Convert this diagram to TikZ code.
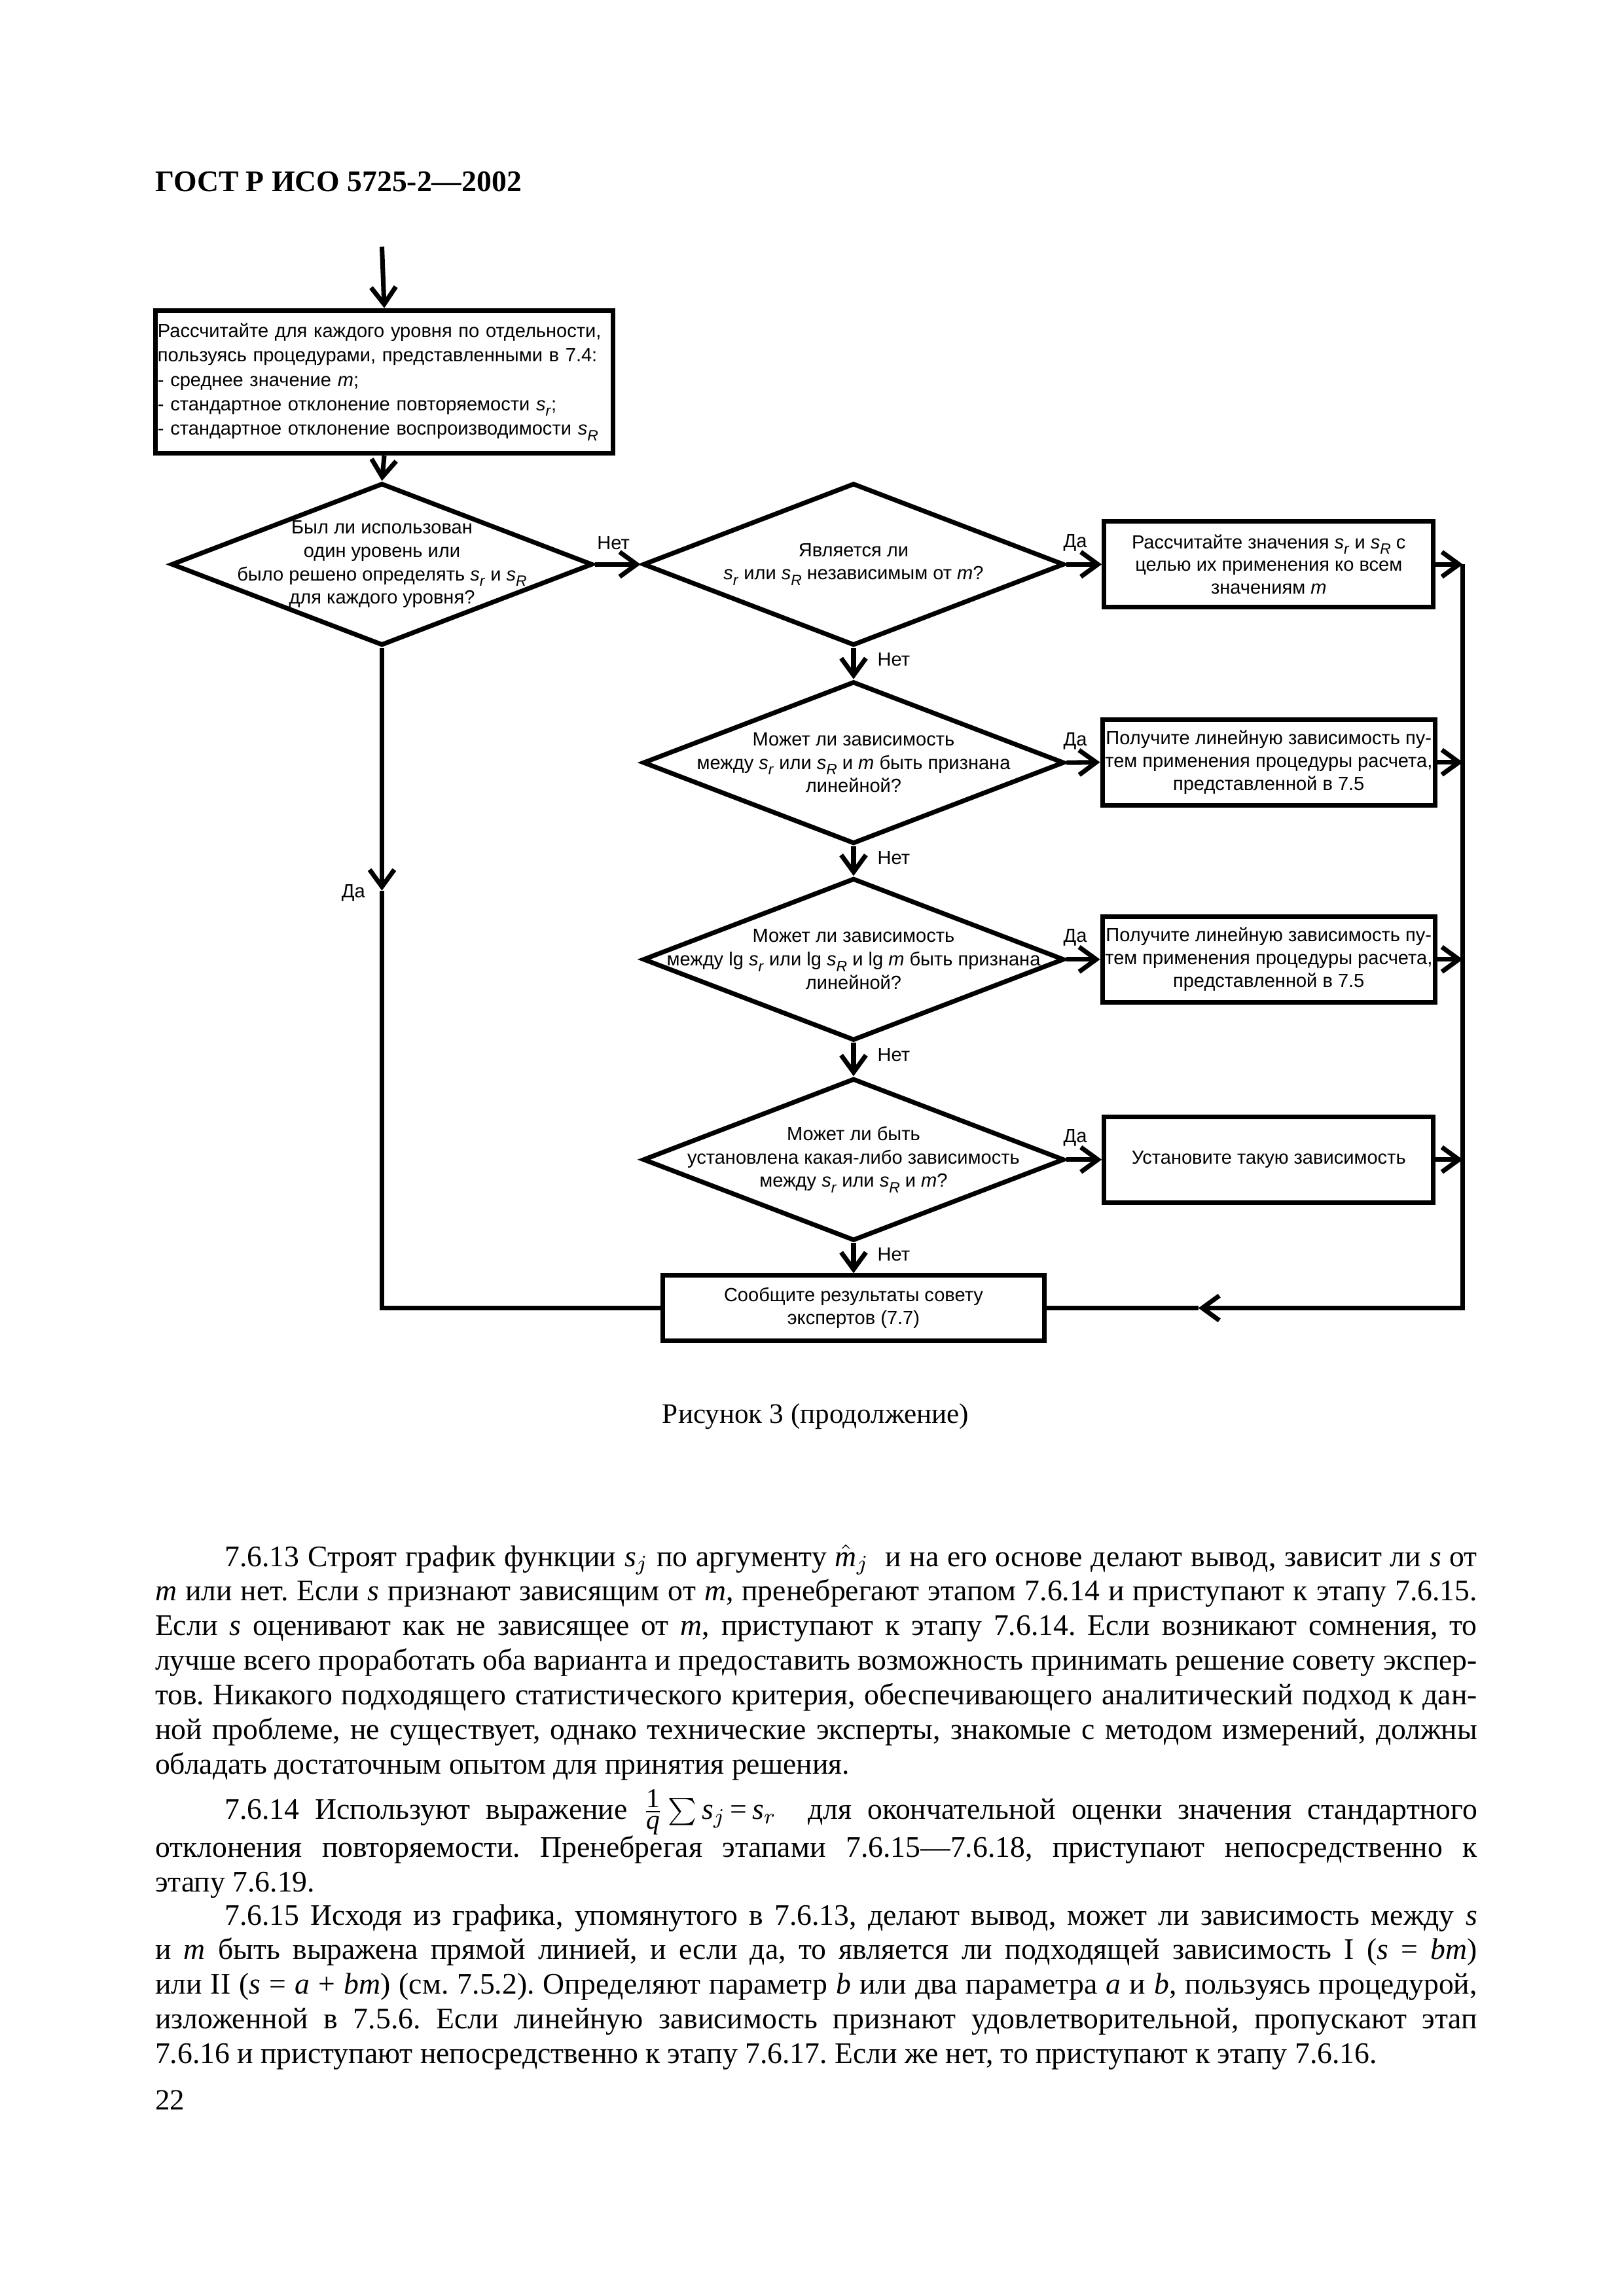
\documentclass[tikz,border=0pt]{standalone}
\usepackage{fontspec}
\setmainfont{Liberation Serif}
\newfontfamily\flowfont{Liberation Sans}
\usetikzlibrary{shapes.geometric,arrows.meta}
\newcommand{\sidx}[1]{\textit{s}\raisebox{-0.55ex}{\fontsize{5.5}{5.5}\selectfont\textit{#1}}}
\begin{document}
\begin{tikzpicture}[
    box/.style={draw, line width=1.7pt, inner sep=1pt, align=center,
      font=\flowfont\fontsize{7}{8.4}\selectfont},
    decision/.style={diamond, draw, line width=1.7pt, inner sep=0pt,
      minimum width=5.45cm, minimum height=2.1cm},
    qtext/.style={align=center, inner sep=0pt, font=\flowfont\fontsize{7}{8.6}\selectfont},
    lbl/.style={inner sep=0pt, font=\flowfont\fontsize{7}{8}\selectfont},
    flow/.style={line width=1.7pt, -{Straight Barb[length=2.2mm,width=3.2mm]}},
    link/.style={line width=1.7pt},
    body/.style={anchor=base west, inner sep=0pt, text width=17.1cm, align=justify,
      font=\fontsize{11}{12.74}\selectfont\frenchspacing}
  ]
  \useasboundingbox (0,0) rectangle (21,-29.7);
  \node[anchor=base west, inner sep=0pt, font=\bfseries\fontsize{11}{13}\selectfont] (head) at (2.0,-2.48) {ГОСТ Р ИСО 5725-2—2002};

  \coordinate (entry) at (4.94,-3.19);
  \node[box, minimum width=5.92cm, minimum height=1.85cm, text width=5.86cm, align=left,
    inner xsep=0.5pt, font=\flowfont\fontsize{7}{9}\selectfont] (calc) at (4.97,-4.94)
    {Рассчитайте для каждого уровня по отдельности,\\
     пользуясь процедурами, представленными в 7.4:\\
     - среднее значение \textit{m};\\
     - стандартное отклонение повторяемости \sidx{r};\\
     - стандартное отклонение воспроизводимости \sidx{R}};

  \node[decision] (q1) at (4.94,-7.30) {};
  \node[qtext] (q1t) at (q1) {Был ли использован\\один уровень или\\было решено определять \sidx{r} и \sidx{R}\\для каждого уровня?};
  \node[decision] (q2) at (11.04,-7.30) {};
  \node[qtext] (q2t) at (q2) {Является ли\\\sidx{r} или \sidx{R} независимым от \textit{m}?};
  \node[decision] (q3) at (11.04,-9.865) {};
  \node[qtext] (q3t) at (q3) {Может ли зависимость\\между \sidx{r} или \sidx{R} и \textit{m} быть признана\\линейной?};
  \node[decision] (q4) at (11.04,-12.41) {};
  \node[qtext] (q4t) at (q4) {Может ли зависимость\\между lg \sidx{r} или lg \sidx{R} и lg \textit{m} быть признана\\линейной?};
  \node[decision] (q5) at (11.04,-15.0) {};
  \node[qtext] (q5t) at (q5) {Может ли быть\\установлена какая-либо зависимость\\между \sidx{r} или \sidx{R} и \textit{m}?};

  \node[box, minimum width=4.26cm, minimum height=1.11cm] (b2) at (16.41,-7.30)
    {Рассчитайте значения \sidx{r} и \sidx{R} с\\целью их применения ко всем\\значениям \textit{m}};
  \node[box, minimum width=4.26cm, minimum height=1.11cm] (b3) at (16.41,-9.86)
    {Получите линейную зависимость пу-\\тем применения процедуры расчета,\\представленной в 7.5};
  \node[box, minimum width=4.26cm, minimum height=1.11cm] (b4) at (16.41,-12.41)
    {Получите линейную зависимость пу-\\тем применения процедуры расчета,\\представленной в 7.5};
  \node[box, minimum width=4.26cm, minimum height=1.11cm] (b5) at (16.41,-15.0)
    {Установите такую зависимость};
  \node[box, minimum width=4.94cm, minimum height=0.84cm] (report) at (11.04,-16.92)
    {Сообщите результаты совету\\экспертов (7.7)};

  \coordinate (rail) at (18.92,-7.30);
  \coordinate (dropyes) at (4.94,-11.52);
  \coordinate (backtip) at (15.5,-16.92);

  \draw[flow] (entry) -- (calc.north);
  \draw[flow] (calc.south) -- (q1.north);
  \draw[flow] (q1.east) -- (q2.west)
    node[lbl, pos=0, anchor=south west, xshift=0pt, yshift=4.5pt] (no1) {Нет};
  \draw[flow] (q2.east) -- (b2.west)
    node[lbl, pos=0, anchor=south west, xshift=-2pt, yshift=4pt] (yes2) {Да};
  \draw[flow] (q3.east) -- (b3.west)
    node[lbl, pos=0, anchor=south west, xshift=-2pt, yshift=4pt] (yes3) {Да};
  \draw[flow] (q4.east) -- (b4.west)
    node[lbl, pos=0, anchor=south west, xshift=-2pt, yshift=4pt] (yes4) {Да};
  \draw[flow] (q5.east) -- (b5.west)
    node[lbl, pos=0, anchor=south west, xshift=-2pt, yshift=4pt] (yes5) {Да};
  \draw[flow] (q2.south) -- (q3.north)
    node[lbl, pos=0, anchor=north west, xshift=8pt, yshift=-1pt] (no2) {Нет};
  \draw[flow] (q3.south) -- (q4.north)
    node[lbl, pos=0, anchor=north west, xshift=8pt, yshift=-1pt] (no3) {Нет};
  \draw[flow] (q4.south) -- (q5.north)
    node[lbl, pos=0, anchor=north west, xshift=8pt, yshift=-1pt] (no4) {Нет};
  \draw[flow] (q5.south) -- (report.north)
    node[lbl, pos=0, anchor=north west, xshift=8pt, yshift=-1pt] (no5) {Нет};

  \draw[flow] (b2.east) -- (b2.east -| rail);
  \draw[flow] (b3.east) -- (b3.east -| rail);
  \draw[flow] (b4.east) -- (b4.east -| rail);
  \draw[flow] (b5.east) -- (b5.east -| rail);
  \draw[flow] (rail) -- (rail |- report.east) -- (backtip);
  \draw[link] (backtip) -- (report.east);

  \draw[flow] (q1.south) -- (dropyes);
  \draw[link] (dropyes) -- (dropyes |- report.west) -- (report.west);
  \node[lbl, anchor=east] (yes1) at ([xshift=-6pt,yshift=-1pt]dropyes) {Да};

  \node[anchor=base, inner sep=0pt, font=\fontsize{10.4}{13}\selectfont] (caption) at (10.55,-18.41) {Рисунок 3 (продолжение)};

  \node[body] (p13) at (2.0,-20.26) {\tolerance=9999\hspace*{0.9cm}7.6.13 Строят график функции \textit{s}$_j$ по аргументу $\hat{\textit{m}}_j$\ \ и на его основе делают вывод, зависит ли \textit{s} от\linebreak
    \textit{m} или нет. Если \textit{s} признают зависящим от \textit{m}, пренебрегают этапом 7.6.14 и приступают к этапу 7.6.15.\linebreak
    Если \textit{s} оценивают как не зависящее от \textit{m}, приступают к этапу 7.6.14. Если возникают сомнения, то\linebreak
    лучше всего проработать оба варианта и предоставить возможность принимать решение совету экспер-\linebreak
    тов. Никакого подходящего статистического критерия, обеспечивающего аналитический подход к дан-\linebreak
    ной проблеме, не существует, однако технические эксперты, знакомые с методом измерений, должны\linebreak
    обладать достаточным опытом для принятия решения.};

  \node[body] (p14) at (2.0,-23.53) {\tolerance=9999\hspace*{0.9cm}7.6.14 Используют выражение \smash{$\frac{\hbox{\fontsize{10}{10}\selectfont 1}}{\hbox{\fontsize{10}{10}\selectfont\textit{q}}}\sum$}\,\textit{s}$_j$\,=\,\textit{s}$_r$\vadjust{\vskip1.2pt}\ \ для окончательной оценки значения стандартного\linebreak
    отклонения повторяемости. Пренебрегая этапами 7.6.15—7.6.18, приступают непосредственно к\linebreak
    этапу 7.6.19.};

  \node[body] (p15) at (2.0,-24.90) {\tolerance=9999\hspace*{0.9cm}7.6.15 Исходя из графика, упомянутого в 7.6.13, делают вывод, может ли зависимость между \textit{s}\linebreak
    и \textit{m} быть выражена прямой линией, и если да, то является ли подходящей зависимость I (\textit{s} = \textit{bm})\linebreak
    или II (\textit{s} = \textit{a} + \textit{bm}) (см. 7.5.2). Определяют параметр \textit{b} или два параметра \textit{a} и \textit{b}, пользуясь процедурой,\linebreak
    изложенной в 7.5.6. Если линейную зависимость признают удовлетворительной, пропускают этап\linebreak
    7.6.16 и приступают непосредственно к этапу 7.6.17. Если же нет, то приступают к этапу 7.6.16.};

  \node[anchor=base west, inner sep=0pt, font=\fontsize{10.8}{13}\selectfont] (pageno) at (2.0,-27.29) {22};
\end{tikzpicture}
\end{document}
